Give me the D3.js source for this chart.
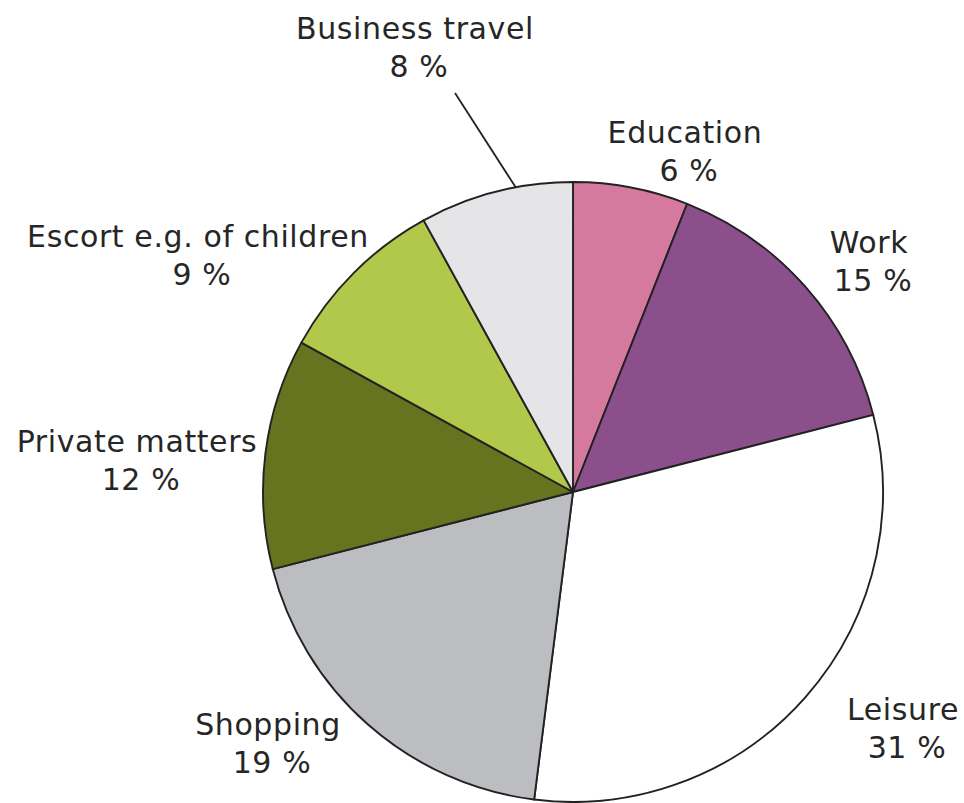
<!DOCTYPE html>
<html>
<head>
<meta charset="utf-8">
<script src="https://cdn.jsdelivr.net/npm/d3@7"></script>
<style>
  html, body { margin: 0; padding: 0; background: #fff; }
  svg { display: block; }
  text { font-family: "DejaVu Sans", Verdana, sans-serif; fill: #262626; }
</style>
</head>
<body>
<svg id="chart" width="964" height="803"></svg>
<script>
const categories = ["Education", "Work", "Leisure", "Shopping", "Private matters", "Escort e.g. of children", "Business travel"];
const values = [6, 15, 31, 19, 12, 9, 8];
const colors = ["#d57a9e", "#8b4f8b", "#ffffff", "#bcbdc1", "#66731f", "#b1c84a", "#e5e5e8"];
// label anchor positions (centre of text block, first-line baseline)
const labelPos = [[685, 143], [869, 253], [903, 720], [268, 735], [137, 452], [198, 247], [415, 39]];

const svg = d3.select("#chart");
const cx = 573, cy = 492, r = 310;

const pie = d3.pie().sort(null).value(d => d.value);
const data = categories.map((c, i) => ({ name: c, value: values[i], color: colors[i], pos: labelPos[i] }));
const arcs = pie(data);
const arc = d3.arc().innerRadius(0).outerRadius(r);

const g = svg.append("g").attr("transform", `translate(${cx},${cy})`);
g.selectAll("path")
  .data(arcs)
  .join("path")
  .attr("d", arc)
  .attr("fill", d => d.data.color)
  .attr("stroke", "#222")
  .attr("stroke-width", 1.9)
  .attr("stroke-linejoin", "round");

// leader line for Business travel
const bt = arcs[6];
const a0 = bt.startAngle + (bt.endAngle - bt.startAngle) * 0.63;
const px = cx + r * Math.sin(a0), py = cy - r * Math.cos(a0);
svg.append("line")
  .attr("x1", 455).attr("y1", 93)
  .attr("x2", px).attr("y2", py)
  .attr("stroke", "#222").attr("stroke-width", 1.8);

const fs = 30;
const labels = svg.selectAll("g.lab")
  .data(data)
  .join("g")
  .attr("class", "lab");
labels.append("text")
  .attr("x", d => d.pos[0])
  .attr("y", d => d.pos[1])
  .attr("text-anchor", "middle")
  .attr("font-size", fs)
  .attr("letter-spacing", 0.6)
  .text(d => d.name);
labels.append("text")
  .attr("x", d => d.pos[0] + 4)
  .attr("y", d => d.pos[1] + 38)
  .attr("text-anchor", "middle")
  .attr("font-size", fs)
  .attr("letter-spacing", 0.6)
  .text(d => d.value + " %");
</script>
</body>
</html>
